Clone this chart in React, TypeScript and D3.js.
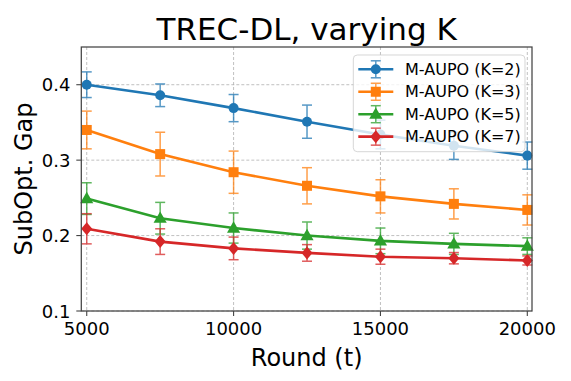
import React from "react";
import * as d3 from "d3";

const rounds = [5000, 7500, 10000, 12500, 15000, 17500, 20000];
const k2Mean = [0.4, 0.386, 0.369, 0.351, 0.334, 0.319, 0.306];
const k2Err = [0.017, 0.015, 0.018, 0.022, 0.019, 0.018, 0.018];
const k3Mean = [0.34, 0.308, 0.284, 0.266, 0.252, 0.242, 0.234];
const k3Err = [0.025, 0.029, 0.028, 0.024, 0.022, 0.02, 0.02];
const k5Mean = [0.249, 0.223, 0.21, 0.2, 0.193, 0.189, 0.186];
const k5Err = [0.021, 0.021, 0.02, 0.018, 0.017, 0.014, 0.011];
const k7Mean = [0.209, 0.192, 0.183, 0.177, 0.172, 0.17, 0.167];
const k7Err = [0.02, 0.017, 0.015, 0.011, 0.01, 0.0075, 0.006];
const seriesNames = ["M-AUPO (K=2)", "M-AUPO (K=3)", "M-AUPO (K=5)", "M-AUPO (K=7)"];
const xTicks = [5000, 10000, 15000, 20000];
const yTicks = [0.1, 0.2, 0.3, 0.4];

const colors = ["#1f77b4", "#ff7f0e", "#2ca02c", "#d62728"];
const markers = ["circle", "square", "triangle", "diamond"];

const series = [
  { name: seriesNames[0], mean: k2Mean, err: k2Err },
  { name: seriesNames[1], mean: k3Mean, err: k3Err },
  { name: seriesNames[2], mean: k5Mean, err: k5Err },
  { name: seriesNames[3], mean: k7Mean, err: k7Err },
];

const W = 571;
const H = 381;
const L = 81.3, R = 532, T = 47, B = 311;
const FONT = "'DejaVu Sans', sans-serif";

const x = d3.scaleLinear().domain([4815, 20160]).range([L, R]);
const y = d3.scaleLinear().domain([0.1, 0.45]).range([B, T]);

function Marker({ kind, cx, cy, color }: { kind: string; cx: number; cy: number; color: string }) {
  if (kind === "circle") return <circle cx={cx} cy={cy} r={5} fill={color} />;
  if (kind === "square") return <rect x={cx - 5} y={cy - 5} width={10} height={10} fill={color} />;
  if (kind === "triangle") {
    const s = d3.symbol().type(d3.symbolTriangle).size(75)();
    return <path d={s || ""} transform={`translate(${cx},${cy + 0.8})`} fill={color} />;
  }
  return <path d={`M${cx},${cy - 6.5}L${cx + 5.5},${cy}L${cx},${cy + 6.5}L${cx - 5.5},${cy}Z`} fill={color} />;
}

export default function App() {
  const line = d3
    .line<number>()
    .x((_, i) => x(rounds[i]))
    .y((d) => y(d));
  const cap = 5;
  return (
    <svg
      width={W}
      height={H}
      style={{ position: "absolute", left: 0, top: 0, background: "#fff" }}
      fontFamily={FONT}
    >
      <rect x={0} y={0} width={W} height={H} fill="#fff" />
      {/* grid */}
      {xTicks.map((t) => (
        <line key={"gx" + t} x1={x(t)} x2={x(t)} y1={T} y2={B} stroke="#b0b0b0" strokeWidth={0.8} strokeDasharray="3,2" />
      ))}
      {yTicks.map((t) => (
        <line key={"gy" + t} x1={L} x2={R} y1={y(t)} y2={y(t)} stroke="#b0b0b0" strokeWidth={0.8} strokeDasharray="3,2" />
      ))}
      {/* series */}
      {series.map((s, si) => (
        <g key={s.name}>
          <g stroke={colors[si]} strokeWidth={1.5} opacity={0.75}>
            {s.mean.map((m, i) => {
              const cx = x(rounds[i]);
              const y1 = y(m - s.err[i]);
              const y2 = y(m + s.err[i]);
              return (
                <g key={i}>
                  <line x1={cx} x2={cx} y1={y1} y2={y2} />
                  <line x1={cx - cap} x2={cx + cap} y1={y1} y2={y1} />
                  <line x1={cx - cap} x2={cx + cap} y1={y2} y2={y2} />
                </g>
              );
            })}
          </g>
          <path d={line(s.mean) || ""} fill="none" stroke={colors[si]} strokeWidth={2.6} />
          {s.mean.map((m, i) => (
            <Marker key={i} kind={markers[si]} cx={x(rounds[i])} cy={y(m)} color={colors[si]} />
          ))}
        </g>
      ))}
      {/* spines */}
      <rect x={L} y={T} width={R - L} height={B - T} fill="none" stroke="#444" strokeWidth={1.25} />
      {/* ticks */}
      {xTicks.map((t) => (
        <g key={"xt" + t}>
          <line x1={x(t)} x2={x(t)} y1={B} y2={B + 5} stroke="#444" strokeWidth={1.1} />
          <text x={x(t)} y={334.5} fontSize={18} textAnchor="middle" fill="#000">
            {t}
          </text>
        </g>
      ))}
      {yTicks.map((t) => (
        <g key={"yt" + t}>
          <line x1={L - 5} x2={L} y1={y(t)} y2={y(t)} stroke="#444" strokeWidth={1.1} />
          <text x={70.5} y={y(t) + 6.5} fontSize={18} textAnchor="end" fill="#000">
            {t.toFixed(1)}
          </text>
        </g>
      ))}
      {/* labels */}
      <text x={(L + R) / 2} y={39.5} fontSize={31} textAnchor="middle" fill="#000">
        TREC-DL, varying K
      </text>
      <text x={(L + R) / 2} y={366} fontSize={24} textAnchor="middle" fill="#000">
        Round (t)
      </text>
      <text transform={`translate(32,179) rotate(-90)`} fontSize={24} textAnchor="middle" fill="#000">
        SubOpt. Gap
      </text>
      {/* legend */}
      <g>
        <rect x={353.3} y={55} width={171.7} height={96.7} rx={4} fill="#fff" fillOpacity={0.8} stroke="#ccc" strokeOpacity={0.8} strokeWidth={1} />
        {series.map((s, si) => {
          const ry = 69.3 + si * 22.45;
          const cx = 375.8;
          return (
            <g key={"lg" + si}>
              <g stroke={colors[si]} strokeWidth={1.5} opacity={0.75}>
                <line x1={cx} x2={cx} y1={ry - 8.5} y2={ry + 8.5} />
                <line x1={cx - cap} x2={cx + cap} y1={ry - 8.5} y2={ry - 8.5} />
                <line x1={cx - cap} x2={cx + cap} y1={ry + 8.5} y2={ry + 8.5} />
              </g>
              <line x1={358.3} x2={393.3} y1={ry} y2={ry} stroke={colors[si]} strokeWidth={2.6} />
              <Marker kind={markers[si]} cx={cx} cy={ry} color={colors[si]} />
              <text x={405} y={ry + 5.7} fontSize={16} fill="#000">
                {s.name}
              </text>
            </g>
          );
        })}
      </g>
    </svg>
  );
}
